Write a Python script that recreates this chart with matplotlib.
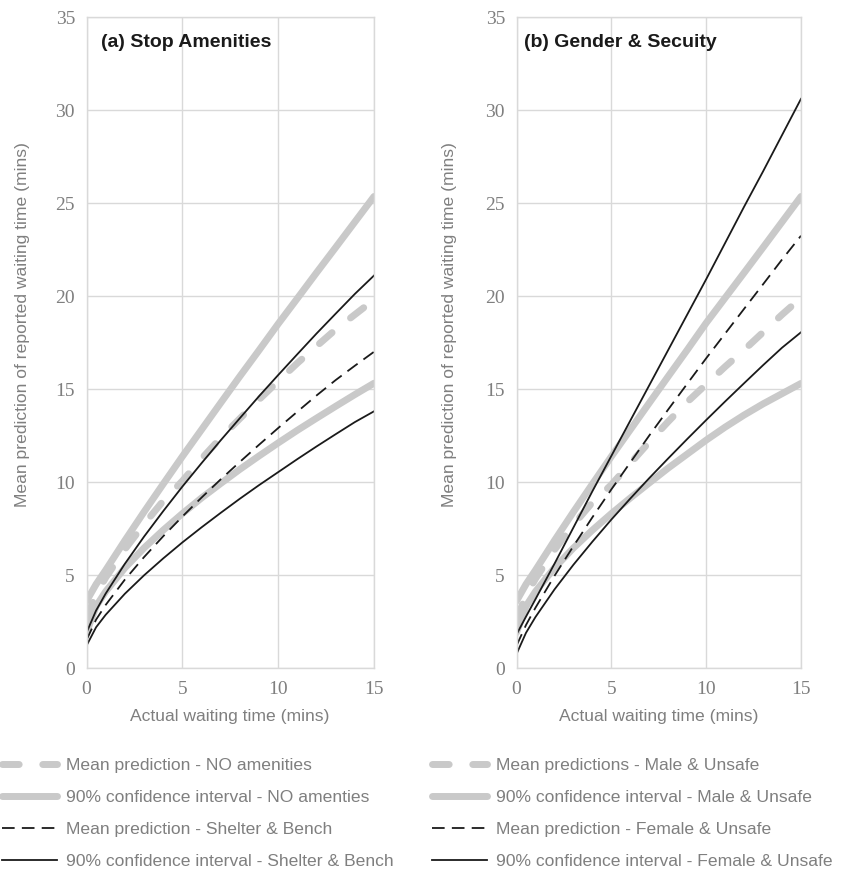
import numpy as np
import matplotlib
matplotlib.use('Agg')
import matplotlib.pyplot as plt

# actual waiting time (mins)
x_min = [0, 0.5, 1, 2, 3, 4, 5, 6, 7, 8, 9, 10, 11, 12, 13, 14, 15]

# (a) stop amenities
none_mean = [2.7, 3.97, 4.86, 6.38, 7.73, 8.98, 10.05, 11.25, 12.37, 13.41, 14.43, 15.42, 16.39, 17.3, 18.2, 19.0, 19.8]
none_hi = [3.6, 4.5, 5.26, 6.85, 8.39, 9.89, 11.37, 12.81, 14.25, 15.68, 17.08, 18.5, 19.87, 21.25, 22.61, 23.98, 25.35]
none_lo = [1.9, 3.32, 4.11, 5.38, 6.45, 7.41, 8.30, 9.14, 9.92, 10.68, 11.40, 12.10, 12.78, 13.43, 14.07, 14.70, 15.31]
sb_mean = [1.5, 2.60, 3.39, 4.75, 5.96, 7.08, 8.14, 9.16, 10.14, 11.08, 12.0, 12.9, 13.78, 14.65, 15.48, 16.25, 17.0]
sb_hi = [1.9, 3.09, 4.0, 5.60, 7.06, 8.43, 9.75, 11.01, 12.24, 13.43, 14.61, 15.75, 16.87, 17.98, 19.05, 20.11, 21.1]
sb_lo = [1.2, 2.19, 2.86, 3.99, 4.98, 5.89, 6.75, 7.56, 8.34, 9.10, 9.83, 10.53, 11.23, 11.91, 12.57, 13.22, 13.8]

# (b) gender & security
mu_mean = [2.6, 3.9, 4.8, 6.35, 7.7, 8.9, 9.85, 11.0, 12.15, 13.25, 14.3, 15.25, 16.2, 17.1, 18.05, 19.0, 19.9]
mu_hi = [3.6, 4.5, 5.26, 6.85, 8.39, 9.89, 11.37, 12.81, 14.25, 15.68, 17.1, 18.55, 19.9, 21.25, 22.61, 23.98, 25.35]
mu_lo = [1.9, 3.32, 4.11, 5.38, 6.45, 7.41, 8.30, 9.14, 9.95, 10.75, 11.5, 12.25, 12.95, 13.6, 14.2, 14.75, 15.3]
fu_mean = [1.2, 2.31, 3.24, 4.95, 6.55, 8.10, 9.60, 11.05, 12.5, 13.9, 15.28, 16.65, 17.98, 19.31, 20.63, 21.96, 23.24]
fu_hi = [1.8, 2.76, 3.7, 5.6, 7.55, 9.5, 11.4, 13.3, 15.2, 17.1, 19.0, 20.9, 22.85, 24.8, 26.7, 28.65, 30.6]
fu_lo = [0.75, 1.89, 2.74, 4.22, 5.55, 6.79, 7.98, 9.11, 10.21, 11.27, 12.31, 13.33, 14.33, 15.31, 16.28, 17.22, 18.05]

x_ticks = [0, 5, 10, 15]
y_ticks = [0, 5, 10, 15, 20, 25, 30, 35]

grey = '#c9c9c9'
grid_c = '#d9d9d9'
txt_c = '#7f7f7f'

plt.rcParams['font.family'] = ['Liberation Sans', 'DejaVu Sans']

fig = plt.figure(figsize=(8.41, 8.72), dpi=100)
ax1 = fig.add_axes([86.5 / 841, 204 / 872, 287.5 / 841, 651 / 872])
ax2 = fig.add_axes([516.5 / 841, 204 / 872, 284.5 / 841, 651 / 872])


def draw(ax, mean_g, hi_g, lo_g, mean_k, hi_k, lo_k, labels):
    ax.plot(x_min, mean_g, color=grey, lw=5, dashes=(2.4, 3.4), dash_capstyle='round', label=labels[0])
    ax.plot(x_min, hi_g, color=grey, lw=5, solid_capstyle='round', label=labels[1])
    ax.plot(x_min, lo_g, color=grey, lw=5, solid_capstyle='round')
    ax.plot(x_min, mean_k, color='#1a1a1a', lw=1.3, dashes=(7, 4), label=labels[2])
    ax.plot(x_min, hi_k, color='#1a1a1a', lw=1.3, label=labels[3])
    ax.plot(x_min, lo_k, color='#1a1a1a', lw=1.3)

    ax.set_xlim(0, 15)
    ax.set_ylim(0, 35)
    ax.set_xticks(x_ticks)
    ax.set_yticks(y_ticks)
    ax.grid(True, color=grid_c, lw=1)
    ax.set_axisbelow(True)
    for s in ax.spines.values():
        s.set_color(grid_c)
        s.set_linewidth(1)
    ax.tick_params(length=0, colors=txt_c, labelsize=14)
    ax.tick_params(axis='x', pad=9.5)
    ax.tick_params(axis='y', pad=8.3)
    for lab in ax.get_xticklabels() + ax.get_yticklabels():
        lab.set_family('Liberation Serif')
    ax.set_xlabel('Actual waiting time (mins)', fontsize=12.6, color=txt_c)
    ax.xaxis.set_label_coords(0.5, -0.063)
    ax.set_ylabel('Mean prediction of reported waiting time (mins)', fontsize=12.6, color=txt_c)


draw(ax1, none_mean, none_hi, none_lo, sb_mean, sb_hi, sb_lo,
     ['Mean prediction - NO amenities', '90% confidence interval - NO amenties',
      'Mean prediction - Shelter & Bench', '90% confidence interval - Shelter & Bench'])
draw(ax2, mu_mean, mu_hi, mu_lo, fu_mean, fu_hi, fu_lo,
     ['Mean predictions - Male & Unsafe', '90% confidence interval - Male & Unsafe',
      'Mean prediction - Female & Unsafe', '90% confidence interval - Female & Unsafe'])

ax1.yaxis.set_label_coords(-0.197, 0.527)
ax2.yaxis.set_label_coords(-0.209, 0.527)

ax1.text(0.052, 0.954, '(a) Stop Amenities', transform=ax1.transAxes, fontsize=14,
         fontweight='bold', color='#1a1a1a', va='baseline')
ax2.text(0.0275, 0.954, '(b) Gender & Secuity', transform=ax2.transAxes, fontsize=14,
         fontweight='bold', color='#1a1a1a', va='baseline')

for ax, x0 in [(ax1, 2), (ax2, 431.7)]:
    ax.legend(loc='upper left', bbox_to_anchor=(x0 / 841, (872 - 758) / 872), bbox_transform=fig.transFigure,
              frameon=False, fontsize=12.6, handlelength=3.14, handletextpad=0.51,
              labelspacing=0.96, borderpad=0, borderaxespad=0, labelcolor=txt_c)

fig.savefig('out.png', dpi=100)
